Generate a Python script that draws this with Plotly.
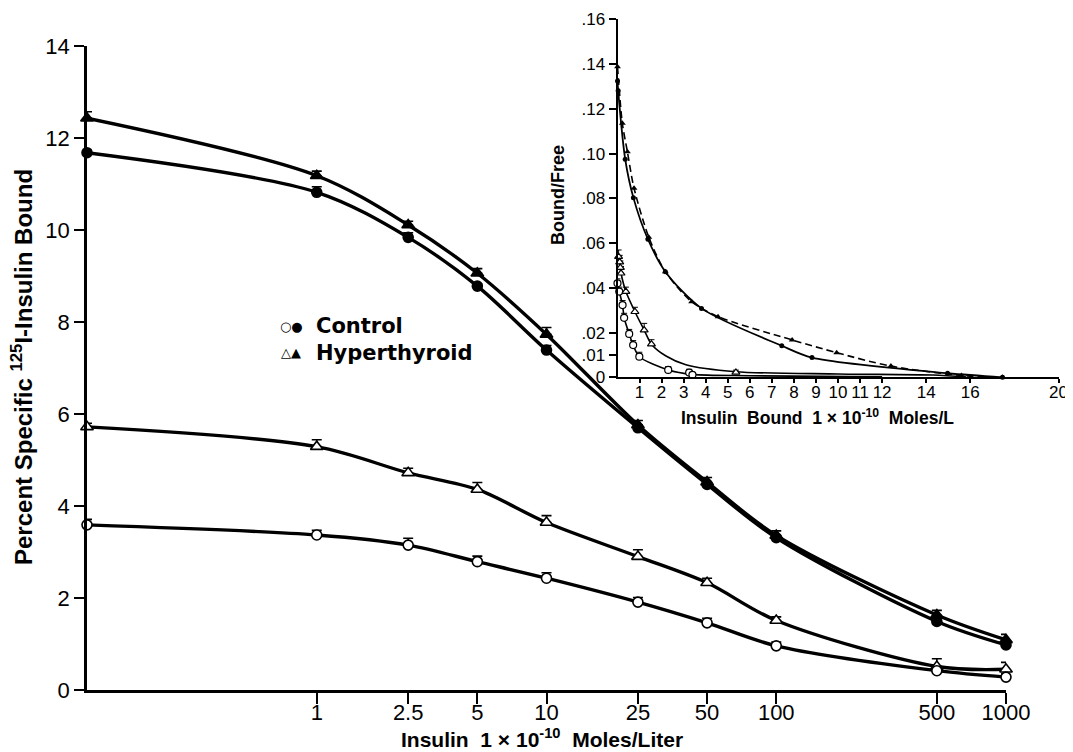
import plotly.graph_objects as go

# the page places the figure 8px in from the window's top-left corner
OFF = 8
W, H = 1073 - OFF, 752 - OFF

# ---------------- main chart data ----------------
# zero-insulin point drawn at the axis origin (0.1 on the log axis)
conc = [0.1, 1, 2.5, 5, 10, 25, 50, 100, 500, 1000]
conc_ticks = [1, 2.5, 5, 10, 25, 50, 100, 500, 1000]
conc_ticktext = ["1", "2.5", "5", "10", "25", "50", "100", "500", "1000"]

hyper_filled = [12.43, 11.18, 10.11, 9.06, 7.73, 5.76, 4.52, 3.36, 1.63, 1.09]
hyper_filled_err = [0.14, 0.10, 0.08, 0.10, 0.15, 0.10, 0.10, 0.10, 0.10, 0.12]
ctrl_filled = [11.68, 10.82, 9.84, 8.78, 7.39, 5.70, 4.47, 3.31, 1.49, 0.98]
ctrl_filled_err = [0.05, 0.12, 0.10, 0.05, 0.10, 0.05, 0.05, 0.05, 0.08, 0.05]
hyper_open = [5.72, 5.29, 4.72, 4.36, 3.64, 2.90, 2.33, 1.51, 0.51, 0.45]
hyper_open_err = [0.08, 0.15, 0.10, 0.15, 0.15, 0.15, 0.10, 0.08, 0.17, 0.15]
ctrl_open = [3.59, 3.37, 3.15, 2.79, 2.43, 1.91, 1.46, 0.96, 0.42, 0.28]
ctrl_open_err = [0.12, 0.10, 0.15, 0.12, 0.12, 0.10, 0.10, 0.08, 0.05, 0.08]

y_ticks = [0, 2, 4, 6, 8, 10, 12, 14]

# ---------------- inset (Scatchard) data ----------------
ins_cf_x = [0, 0.03, 0.35, 0.72, 1.38, 2.17, 3.81, 7.45, 8.82, 14.97, 17.46]
ins_cf_y = [0.1324, 0.1281, 0.0974, 0.0803, 0.0617, 0.0472, 0.0308, 0.0141, 0.0088, 0.0018, 0.0]

ins_hf_x = [0, 0.22, 0.45, 0.75, 1.42, 2.17, 3.36, 4.56, 7.92, 9.94, 12.4, 15.6, 17.46]
ins_hf_y = [0.1388, 0.1135, 0.1008, 0.0845, 0.0626, 0.0472, 0.0338, 0.0271, 0.0167, 0.0110, 0.0050, 0.0008, 0.0]

ins_co_x = [0, 0.08, 0.23, 0.30, 0.53, 0.71, 0.99, 2.30, 3.25, 3.40]
ins_co_y = [0.0420, 0.0383, 0.0323, 0.0266, 0.0194, 0.0144, 0.0092, 0.0033, 0.0021, 0.0011]
ins_co_err = [0.002, 0.002, 0.002, 0.002, 0.002, 0.002, 0.002, 0.0015, 0.0015, 0.001]
ins_co_curve_x = [0, 0.08, 0.23, 0.30, 0.53, 0.71, 0.99, 2.30, 3.40, 6.0, 12.0]
ins_co_curve_y = [0.0420, 0.0383, 0.0323, 0.0266, 0.0194, 0.0144, 0.0092, 0.0033, 0.0013, 0.0007, 0.0002]

ins_ho_x = [0.05, 0.10, 0.13, 0.16, 0.38, 0.79, 1.21, 1.54, 5.37]
ins_ho_y = [0.0539, 0.0515, 0.0490, 0.0465, 0.0383, 0.0293, 0.0211, 0.0148, 0.0022]
ins_ho_err = [0.003, 0.003, 0.003, 0.003, 0.002, 0.002, 0.003, 0.002, 0.001]
ins_ho_curve_x = [0.05, 0.16, 0.38, 0.79, 1.21, 1.54, 2.2, 3.1, 5.37, 10.0, 14.3, 15.8]
ins_ho_curve_y = [0.0539, 0.0465, 0.0383, 0.0293, 0.0211, 0.0148, 0.0095, 0.0056, 0.0025, 0.0015, 0.0010, 0.0002]

ins_xticks = [1, 2, 3, 4, 5, 6, 7, 8, 9, 10, 11, 12, 14, 16, 20]
ins_yticks = [0, 0.01, 0.02, 0.04, 0.06, 0.08, 0.10, 0.12, 0.14, 0.16]
ins_ytext = ["0", ".01", ".02", ".04", ".06", ".08", ".10", ".12", ".14", ".16"]


def px_x(p):
    return (p - OFF) / W


def px_y(p):
    return 1 - (p - OFF) / H


# ---------------- figure ----------------
fig = go.Figure()
BLACK = "black"


def err(vals, thick=1.6, width=5):
    return dict(type="data", symmetric=False, array=vals,
                arrayminus=[0] * len(vals), color=BLACK,
                thickness=thick, width=width)


main_series = [
    (hyper_filled, hyper_filled_err, "triangle-up", BLACK),
    (ctrl_filled, ctrl_filled_err, "circle", BLACK),
    (hyper_open, hyper_open_err, "triangle-up", "white"),
    (ctrl_open, ctrl_open_err, "circle", "white"),
]
for ys, es, sym, fill in main_series:
    fig.add_trace(go.Scatter(
        x=conc, y=ys, mode="lines+markers", xaxis="x", yaxis="y",
        line=dict(color=BLACK, width=3.4, shape="spline", smoothing=0.9),
        marker=dict(symbol=sym, size=10 if sym == "circle" else 11,
                    color=fill, line=dict(color=BLACK, width=1.6)),
        error_y=err(es), cliponaxis=False, showlegend=False))

# inset curves
fig.add_trace(go.Scatter(
    x=ins_cf_x, y=ins_cf_y, mode="lines+markers", xaxis="x2", yaxis="y2",
    line=dict(color=BLACK, width=1.8, shape="spline", smoothing=0.8),
    marker=dict(symbol="circle", size=5, color=BLACK),
    cliponaxis=False, showlegend=False))
fig.add_trace(go.Scatter(
    x=ins_hf_x, y=ins_hf_y, mode="lines+markers", xaxis="x2", yaxis="y2",
    line=dict(color=BLACK, width=1.6, dash="7px,4px", shape="spline", smoothing=0.8),
    marker=dict(symbol="triangle-up", size=6, color=BLACK),
    cliponaxis=False, showlegend=False))
fig.add_trace(go.Scatter(
    x=ins_co_curve_x, y=ins_co_curve_y, mode="lines", xaxis="x2", yaxis="y2",
    line=dict(color=BLACK, width=1.6, shape="spline", smoothing=0.8),
    cliponaxis=False, showlegend=False))
fig.add_trace(go.Scatter(
    x=ins_ho_curve_x, y=ins_ho_curve_y, mode="lines", xaxis="x2", yaxis="y2",
    line=dict(color=BLACK, width=1.6, shape="spline", smoothing=0.8),
    cliponaxis=False, showlegend=False))
fig.add_trace(go.Scatter(
    x=ins_co_x, y=ins_co_y, mode="markers", xaxis="x2", yaxis="y2",
    marker=dict(symbol="circle", size=7, color="white", line=dict(color=BLACK, width=1.2)),
    error_y=err(ins_co_err, thick=1, width=3), cliponaxis=False, showlegend=False))
fig.add_trace(go.Scatter(
    x=ins_ho_x, y=ins_ho_y, mode="markers", xaxis="x2", yaxis="y2",
    marker=dict(symbol="triangle-up", size=7, color="white", line=dict(color=BLACK, width=1.2)),
    error_y=err(ins_ho_err, thick=1, width=3), cliponaxis=False, showlegend=False))

SANS = "Liberation Sans, Arial, sans-serif"
TICKFONT = dict(family=SANS, size=22, color=BLACK)
INSFONT = dict(family=SANS, size=17, color=BLACK)

fig.update_layout(
    width=W, height=H,
    margin=dict(l=0, r=0, t=0, b=0),
    paper_bgcolor="white", plot_bgcolor="rgba(0,0,0,0)",
    font=dict(family=SANS, color=BLACK),
    xaxis=dict(domain=[px_x(87), px_x(1006)], type="log", range=[-1, 3],
               tickvals=conc_ticks, ticktext=conc_ticktext,
               showline=True, linecolor=BLACK, linewidth=2.5,
               ticks="outside", ticklen=11, tickwidth=2, tickcolor=BLACK,
               ticklabelstandoff=-10,
               showgrid=False, zeroline=False, tickfont=TICKFONT,
               automargin=False, anchor="y"),
    yaxis=dict(domain=[px_y(690), px_y(46)], range=[0, 14],
               tickvals=y_ticks, showline=True, linecolor=BLACK, linewidth=2.5,
               ticks="outside", ticklen=10, tickwidth=2, tickcolor=BLACK,
               showgrid=False, zeroline=False, tickfont=TICKFONT,
               automargin=False, anchor="x"),
    xaxis2=dict(domain=[px_x(617.5), px_x(1058.5)], range=[0, 20],
                tickvals=ins_xticks, showline=True, linecolor=BLACK, linewidth=2,
                ticks="outside", ticklen=4, tickwidth=1.5, tickcolor=BLACK,
                ticklabelstandoff=-6,
                showgrid=False, zeroline=False, tickfont=INSFONT,
                automargin=False, anchor="y2"),
    yaxis2=dict(domain=[px_y(377.3), px_y(19.3)], range=[0, 0.16],
                tickvals=ins_yticks, ticktext=ins_ytext,
                showline=True, linecolor=BLACK, linewidth=2,
                ticks="outside", ticklen=7, tickwidth=1.5, tickcolor=BLACK,
                showgrid=False, zeroline=False, tickfont=INSFONT,
                automargin=False, anchor="x2"),
)

HEAVY = "DejaVu Sans, sans-serif"


def ann(text, x, y, size, family=SANS, angle=0, xanchor="center"):
    fig.add_annotation(text=text, x=px_x(x), y=px_y(y), xref="paper", yref="paper",
                       showarrow=False, textangle=angle, xanchor=xanchor, yanchor="middle",
                       font=dict(family=family, size=size, color=BLACK))


ann("<b>Percent Specific <sup>125</sup>I-Insulin Bound</b>", 22, 367, 24, angle=-90)
ann("<b>Insulin  1 × 10<sup>-10</sup>  Moles/Liter</b>", 542, 738, 21)
ann("<b>Bound/Free</b>", 558, 195, 18, angle=-90)
ann("<b>Insulin  Bound  1 × 10<sup>-10</sup>  Moles/L</b>", 817, 417, 17.5)

ann("○●", 291, 326, 13, family=HEAVY)
ann("△▲", 291, 353, 13, family=HEAVY)
ann("<b>Control</b>", 314, 326, 21, family=HEAVY, xanchor="left")
ann("<b>Hyperthyroid</b>", 314, 353, 21, family=HEAVY, xanchor="left")

fig.write_html("out.html")
